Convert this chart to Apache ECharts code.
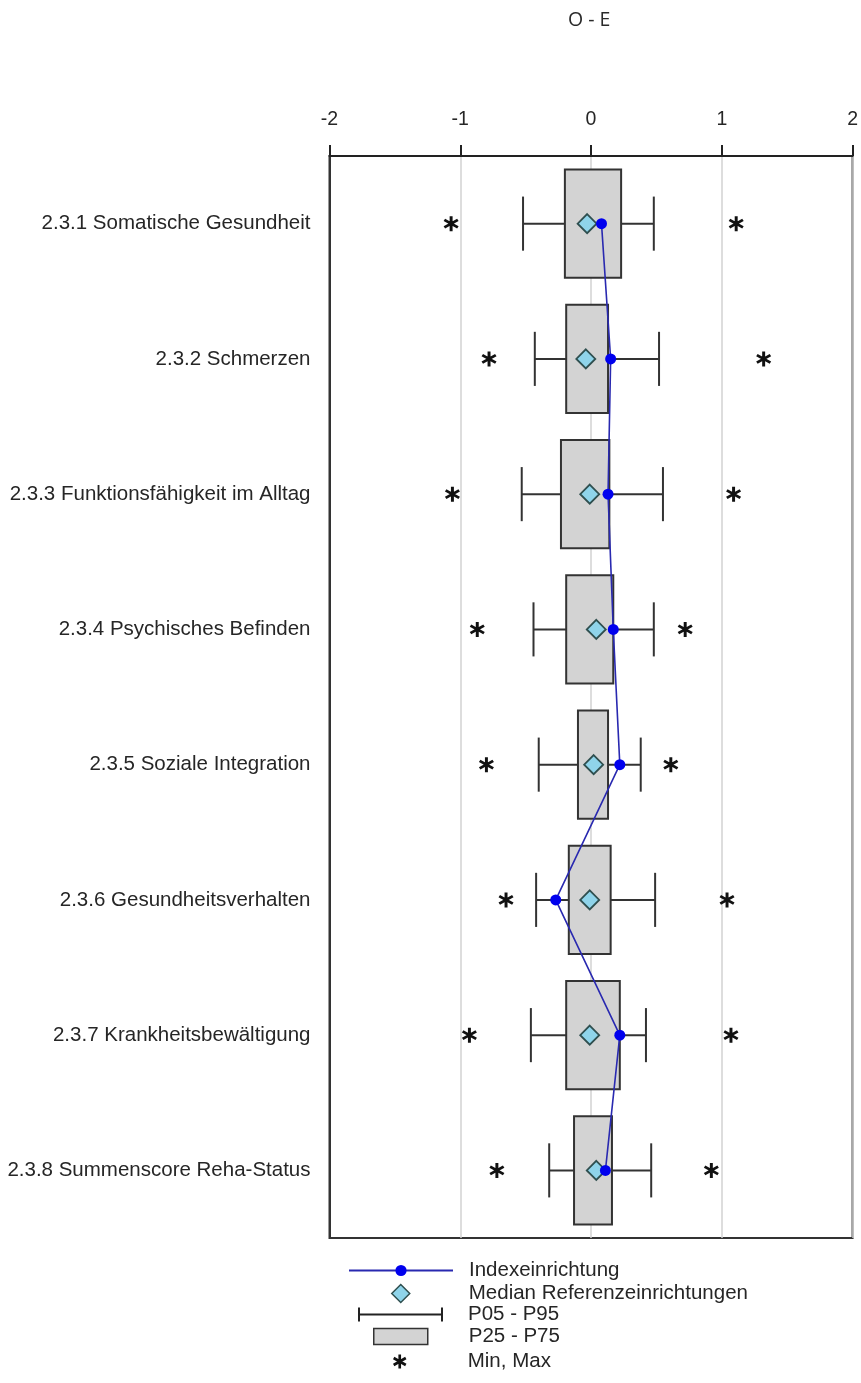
<!DOCTYPE html>
<html>
<head>
<meta charset="utf-8">
<script src="https://cdn.jsdelivr.net/npm/echarts@6/dist/echarts.min.js"></script>
<style>
html,body{margin:0;padding:0;background:#fff;}
#chart{width:861px;height:1383px;}
</style>
</head>
<body>
<div id="chart"></div>
<script>
const categories = ['2.3.1 Somatische Gesundheit','2.3.2 Schmerzen','2.3.3 Funktionsfähigkeit im Alltag','2.3.4 Psychisches Befinden','2.3.5 Soziale Integration','2.3.6 Gesundheitsverhalten','2.3.7 Krankheitsbewältigung','2.3.8 Summenscore Reha-Status'];
const minVals = [-1.07,-0.78,-1.06,-0.87,-0.80,-0.65,-0.93,-0.72];
const p05 = [-0.52,-0.43,-0.53,-0.44,-0.40,-0.42,-0.46,-0.32];
const p25 = [-0.20,-0.19,-0.23,-0.19,-0.10,-0.17,-0.19,-0.13];
const medianVals = [-0.03,-0.04,-0.01,0.04,0.02,-0.01,-0.01,0.04];
const p75 = [0.23,0.13,0.14,0.17,0.13,0.15,0.22,0.16];
const p95 = [0.48,0.52,0.55,0.48,0.38,0.49,0.42,0.46];
const maxVals = [1.11,1.32,1.09,0.72,0.61,1.04,1.07,0.92];
const indexVals = [0.08,0.15,0.13,0.17,0.22,-0.27,0.22,0.11];
const xTicks = [-2,-1,0,1,2];

const FONT = '"Liberation Sans", Arial, sans-serif';
const TXT = '#262626';
const STAR = 'path://M-0.19,-1 L-0.19,1 L0.19,1 L0.19,-1 Z M0.771,0.665 L0.961,0.335 L-0.771,-0.665 L-0.961,-0.335 Z M-0.961,0.335 L-0.771,0.665 L0.961,-0.335 L0.771,-0.665 Z';
const ERRBAR = 'path://M0,0 L2,0 L2,6 L83,6 L83,0 L85,0 L85,14 L83,14 L83,8 L2,8 L2,14 L0,14 Z';

const boxData = categories.map((c,i)=>[i,p25[i],p75[i]]);
const whiskerData = categories.map((c,i)=>[i,p05[i],p95[i]]);
const starData = categories.map((c,i)=>[minVals[i],i]).concat(categories.map((c,i)=>[maxVals[i],i]));
const medianData = categories.map((c,i)=>[medianVals[i],i]);
const indexData = categories.map((c,i)=>[indexVals[i],i]);

function legendItem(name, top, left, w, h, icon, itemStyle, textPad){
  const d = {name:name};
  if (icon) d.icon = icon;
  if (itemStyle) d.itemStyle = itemStyle;
  return {
    data:[d], orient:'vertical', top:top, left:left, padding:0,
    itemWidth:w, itemHeight:h, selectedMode:false,
    textStyle:{fontFamily:FONT, fontSize:20.5, color:TXT, padding:[0,0,0,textPad]}
  };
}

const chart = echarts.init(document.getElementById('chart'), null, {renderer:'canvas'});
chart.setOption({
  animation:false,
  backgroundColor:'#fff',
  title:{text:'O - E', left:568, top:10, padding:0,
    textStyle:{fontFamily:'"Open Sans", sans-serif', fontSize:19.5, fontWeight:'normal', color:'#2a2a2a'}},
  grid:{left:329.5, right:6, top:156, bottom:145, show:true, borderColor:'#333', borderWidth:2, backgroundColor:'transparent'},
  xAxis:{type:'value', position:'top', min:-2, max:2, interval:1,
    axisLine:{show:true, lineStyle:{color:'#222', width:2}},
    axisTick:{show:true, inside:false, length:11, lineStyle:{color:'#222', width:2}},
    axisLabel:{margin:26, fontFamily:FONT, fontSize:19.5, color:TXT,
      formatter:function(v){return xTicks.indexOf(v)>=0 ? String(v) : '';}},
    splitLine:{show:true, lineStyle:{color:'#d2d2d2', width:1.5}}
  },
  yAxis:{type:'category', data:categories, inverse:true,
    axisLine:{show:true, onZero:false, lineStyle:{color:'#333', width:2}},
    axisTick:{show:false},
    axisLabel:{margin:19, fontFamily:FONT, fontSize:20.5, color:TXT},
    splitLine:{show:false}
  },
  legend:[
    legendItem('Indexeinrichtung', 1260, 348, 104, 14, null, null, 11),
    legendItem('Median Referenzeinrichtungen', 1283, 391, 18, 18, 'diamond', {color:'#8fd4ea', borderColor:'#2f4f4f', borderWidth:1.5}, 54),
    legendItem('P05 - P95', 1304, 358, 85, 14, ERRBAR, {color:'#222', borderWidth:0}, 20),
    legendItem('P25 - P75', 1326, 373, 54, 16, 'rect', {color:'#d3d3d3', borderColor:'#333', borderWidth:1.5}, 36),
    legendItem('Min, Max', 1351, 393, 14, 14, STAR, {color:'#111', borderWidth:0}, 56)
  ],
  series:[
    {
      name:'P05 - P95', type:'custom', z:2, data:whiskerData,
      encode:{x:[1,2], y:0},
      itemStyle:{color:'#222'},
      renderItem:function(params, api){
        const i = api.value(0);
        const a = api.coord([api.value(1), i]);
        const b = api.coord([api.value(2), i]);
        const band = api.size([0,1])[1];
        const cap = band*0.4;
        const st = {stroke:'#333', lineWidth:2};
        return {type:'group', children:[
          {type:'line', shape:{x1:a[0], y1:a[1], x2:b[0], y2:b[1]}, style:st},
          {type:'line', shape:{x1:a[0], y1:a[1]-cap/2, x2:a[0], y2:a[1]+cap/2}, style:st},
          {type:'line', shape:{x1:b[0], y1:b[1]-cap/2, x2:b[0], y2:b[1]+cap/2}, style:st}
        ]};
      }
    },
    {
      name:'P25 - P75', type:'custom', z:3, data:boxData,
      encode:{x:[1,2], y:0},
      itemStyle:{color:'#d3d3d3'},
      renderItem:function(params, api){
        const i = api.value(0);
        const a = api.coord([api.value(1), i]);
        const b = api.coord([api.value(2), i]);
        const band = api.size([0,1])[1];
        const h = band*0.8;
        return {type:'rect', shape:{x:a[0], y:a[1]-h/2, width:b[0]-a[0], height:h},
          style:{fill:'#d3d3d3', stroke:'#333', lineWidth:2}};
      }
    },
    {
      name:'Median Referenzeinrichtungen', type:'scatter', z:4, data:medianData,
      symbol:'diamond', symbolSize:[19,19],
      itemStyle:{color:'#8fd4ea', borderColor:'#2f4f4f', borderWidth:1.8, opacity:1}
    },
    {
      name:'Indexeinrichtung', type:'line', z:5, data:indexData,
      symbol:'circle', symbolSize:11, showAllSymbol:true,
      lineStyle:{color:'#2929b0', width:1.6},
      itemStyle:{color:'#0000ee', borderWidth:0}
    },
    {
      name:'Min, Max', type:'scatter', z:4, data:starData,
      symbol:STAR, symbolSize:15,
      itemStyle:{color:'#111', opacity:1}
    }
  ]
});
</script>
</body>
</html>
